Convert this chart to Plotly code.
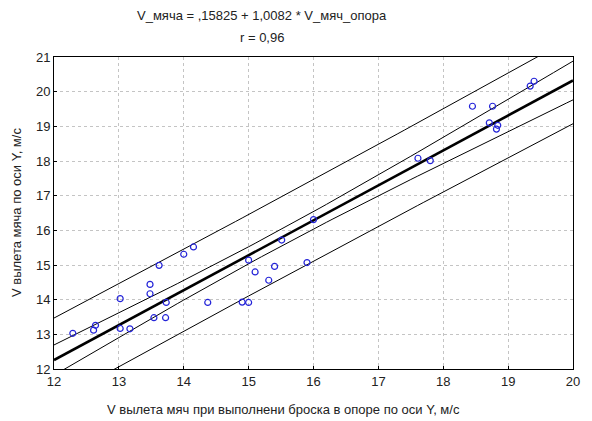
import numpy as np
import plotly.graph_objects as go

## Data (V in opora, V of the ball), m/s
v_opora = [12.29, 12.61, 12.64, 13.02, 13.02, 13.17, 13.48, 13.48, 13.62, 13.73,
           13.54, 13.72, 14.00, 14.15, 14.37, 14.90, 15.00, 15.00, 15.10, 15.40,
           15.31, 15.51, 15.90, 16.00, 17.61, 17.80, 18.45, 18.76, 18.71, 18.84,
           18.82, 19.34, 19.40]
v_myacha = [13.03, 13.12, 13.26, 14.03, 13.17, 13.16, 14.44, 14.17, 14.99, 13.92,
            13.48, 13.48, 15.31, 15.52, 13.92, 13.93, 13.92, 15.14, 14.80, 14.96,
            14.56, 15.72, 15.07, 16.31, 18.08, 18.01, 19.58, 19.58, 19.10, 19.03,
            18.92, 20.16, 20.30]

# Coefficients from the chart title
INTERCEPT = 0.15825
SLOPE = 1.0082

x_ticks = list(range(12, 21))
y_ticks = list(range(12, 22))

FONT = "Arial, Liberation Sans, sans-serif"

# Regression bands (confidence / prediction), computed from the points
x = np.array(v_opora)
y = np.array(v_myacha)
n = len(x)
resid = y - (INTERCEPT + SLOPE * x)
s = np.sqrt((resid ** 2).sum() / (n - 2))
sxx = ((x - x.mean()) ** 2).sum()

xg = np.linspace(12, 20, 81)
fit = INTERCEPT + SLOPE * xg
conf = 2.04 * s * np.sqrt(1 / n + (xg - x.mean()) ** 2 / sxx)
pred = 1.70 * s * np.sqrt(1 + 1 / n + (xg - x.mean()) ** 2 / sxx)

fig = go.Figure()

thin = dict(color="black", width=1)
for band in [fit + pred, fit + conf, fit - conf, fit - pred]:
    fig.add_trace(go.Scatter(x=xg, y=band, mode="lines", line=thin,
                             hoverinfo="skip", showlegend=False))

fig.add_trace(go.Scatter(x=xg, y=fit, mode="lines",
                         line=dict(color="black", width=2.6),
                         showlegend=False))

fig.add_trace(go.Scatter(x=v_opora, y=v_myacha, mode="markers",
                         marker=dict(symbol="circle-open", size=6,
                                     color="#2424d8", line=dict(width=1.2)),
                         showlegend=False))

axis_common = dict(
    showline=True, linecolor="black", linewidth=1, mirror=True,
    showgrid=True, gridcolor="#c4c4c4", griddash="dot", gridwidth=1,
    zeroline=False, ticks="inside", ticklen=3, tickcolor="black",
    tickfont=dict(family=FONT, size=13, color="#222222"),
)

# page body has an 8px margin, so the figure is a bit smaller than the window
fig.update_layout(
    width=584,
    height=413,
    margin=dict(l=46, r=13, t=49, b=52),
    paper_bgcolor="white",
    plot_bgcolor="white",
    font=dict(family=FONT, color="#222222"),
    xaxis=dict(range=[12, 20], tickvals=x_ticks, **axis_common),
    yaxis=dict(range=[12, 21], tickvals=y_ticks, **axis_common),
    annotations=[
        dict(text="V_мяча = ,15825 + 1,0082 * V_мяч_опора",
             x=0.40, y=1.0, xref="paper", yref="paper", xanchor="center",
             yanchor="middle", yshift=42, showarrow=False,
             font=dict(size=13)),
        dict(text="r = 0,96", x=0.40, y=1.0, xref="paper", yref="paper",
             xanchor="center", yanchor="middle", yshift=20, showarrow=False,
             font=dict(size=13)),
        dict(text="V вылета мяч при выполнени броска в опоре по оси Y, м/с",
             x=0.442, y=0, xref="paper", yref="paper", xanchor="center",
             yanchor="middle", yshift=-40, showarrow=False,
             font=dict(size=13)),
        dict(text="V вылета мяча по оси Y, м/с", x=0, y=0.5,
             xref="paper", yref="paper", xanchor="center", yanchor="middle",
             xshift=-38, textangle=-90, showarrow=False,
             font=dict(size=13)),
    ],
)

fig.write_html("out.html")
